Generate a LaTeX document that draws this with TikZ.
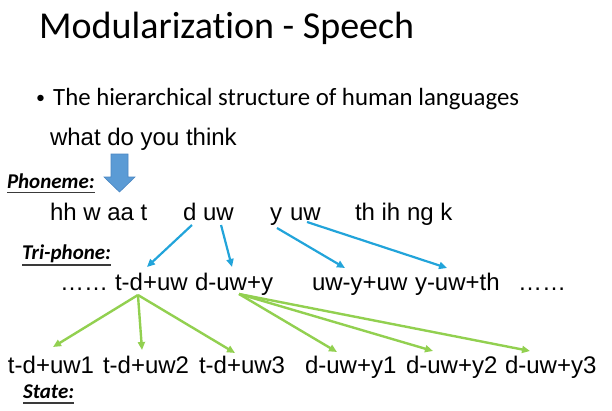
\documentclass[tikz,border=0pt]{standalone}
\usepackage{fontspec}
\setmainfont{Liberation Sans}
\newfontfamily\calibri[Ligatures=NoCommon]{Carlito}
\usetikzlibrary{arrows.meta}
\definecolor{blockblue}{HTML}{5B9BD5}
\definecolor{blockedge}{HTML}{4A86C2}
\definecolor{linkblue}{HTML}{22A4DA}
\definecolor{linkgreen}{HTML}{92D050}
\definecolor{ulgray}{HTML}{3A3A3A}
\tikzset{
  txt/.style={inner sep=0pt, outer sep=0pt, anchor=base west, font=\fontsize{24}{28}\selectfont, text height=17pt, text depth=0pt},
  lvl/.style={inner sep=0pt, outer sep=0pt, anchor=base west, font=\calibri\bfseries\itshape\fontsize{21}{24}\selectfont},
  ul/.style={draw=ulgray, line width=1.7pt},
  bluelink/.style={draw=linkblue, line width=2.2pt, -{Triangle[length=8pt,width=7pt]}},
  greenlink/.style={draw=linkgreen, line width=2.4pt, -{Triangle[length=8pt,width=7pt]}},
}
\begin{document}
\begin{tikzpicture}[x=1pt,y=-1pt]
\useasboundingbox (0,0) rectangle (612,410);
% title and bullet
\node[inner sep=0pt, anchor=base west, font=\calibri\fontsize{38}{44}\selectfont] (title) at (39,38) {Modularization - Speech};
\node[inner sep=0pt, anchor=base, font=\calibri\fontsize{18}{22}\selectfont] (bul) at (40.5,103.5) {•};
\node[inner sep=0pt, anchor=base west, font=\calibri\fontsize{24.8}{30}\selectfont] (sub) at (53,105) {The hierarchical structure of human languages};
\node[txt] (sent) at (50,145) {what do you think};
% block arrow
\draw[fill=blockblue, draw=blockedge, line width=0.6pt] (111,154) -- (128,154) -- (128,177) -- (135,177) -- (119.5,192) -- (104,177) -- (111,177) -- cycle;
% level labels
\node[lvl] (lph) at (7,188) {Phoneme:};
\draw[ul] (lph.base west) ++(0,4.5) coordinate (lphA) -- (lph.base east |- lphA);
\node[lvl] (ltri) at (22,259) {Tri-phone:};
\draw[ul] (ltri.base west) ++(0,6) coordinate (ltriA) -- (ltri.base east |- ltriA);
\node[lvl] (lst) at (23,398) {State:};
\draw[ul] (lst.base west) ++(0,5) coordinate (lstA) -- (lst.base east |- lstA);
% phoneme row
\node[txt] (ph1) at (50,220) {hh w aa t};
\node[txt] (phd) at (183,220) {d};
\node[txt] (phuw) at (203,220) {uw};
\node[txt] (phy) at (270,220) {y};
\node[txt] (phuwb) at (290,220) {uw};
\node[txt] (ph4) at (355,220) {th ih ng k};
% triphone row
\node[txt] (dots1) at (60,290) {……};
\node[txt] (tri1) at (115,290) {t-d+uw};
\node[txt] (tri2) at (195,290) {d-uw+y};
\node[txt] (tri3) at (312,290) {uw-y+uw};
\node[txt] (tri4) at (415,290) {y-uw+th};
\node[txt] (dots2) at (518,290) {……};
% state row
\node[txt] (s1) at (8,373) {t-d+uw1};
\node[txt] (s2) at (103,373) {t-d+uw2};
\node[txt] (s3) at (199,373) {t-d+uw3};
\node[txt] (s4) at (305,373) {d-uw+y1};
\node[txt] (s5) at (406,373) {d-uw+y2};
\node[txt] (s6) at (505,373) {d-uw+y3};
% blue links
\draw[bluelink] ([xshift=2.3pt,yshift=-5pt]phd.south) -- ([xshift=-4.4pt,yshift=6pt]tri1.north);
\draw[bluelink] ([xshift=2.7pt,yshift=-5pt]phuw.south) -- ([xshift=-2pt,yshift=6pt]tri2.north);
\draw[bluelink] ([xshift=1pt,yshift=-8pt]phy.south) -- ([xshift=-14.7pt,yshift=5pt]tri3.north);
\draw[bluelink] ([xshift=1.7pt,yshift=-2pt]phuwb.south) -- ([xshift=-10.3pt,yshift=5pt]tri4.north);
% green links
\draw[greenlink] ([xshift=-13.4pt,yshift=-5pt]tri1.south) -- ([xshift=2pt,yshift=9pt]s1.north);
\draw[greenlink] ([xshift=-13.4pt,yshift=-5pt]tri1.south) -- ([xshift=-4pt,yshift=6pt]s2.north);
\draw[greenlink] ([xshift=-13.4pt,yshift=-5pt]tri1.south) -- ([xshift=-7pt,yshift=3pt]s3.north);
\draw[greenlink] ([xshift=5pt,yshift=-4pt]tri2.south) -- ([xshift=-13.7pt,yshift=4pt]s4.north);
\draw[greenlink] ([xshift=5pt,yshift=-4pt]tri2.south) -- ([xshift=-18.7pt,yshift=5pt]s5.north);
\draw[greenlink] ([xshift=5pt,yshift=-4pt]tri2.south) -- ([xshift=-20.7pt,yshift=5pt]s6.north);
\end{tikzpicture}
\end{document}
